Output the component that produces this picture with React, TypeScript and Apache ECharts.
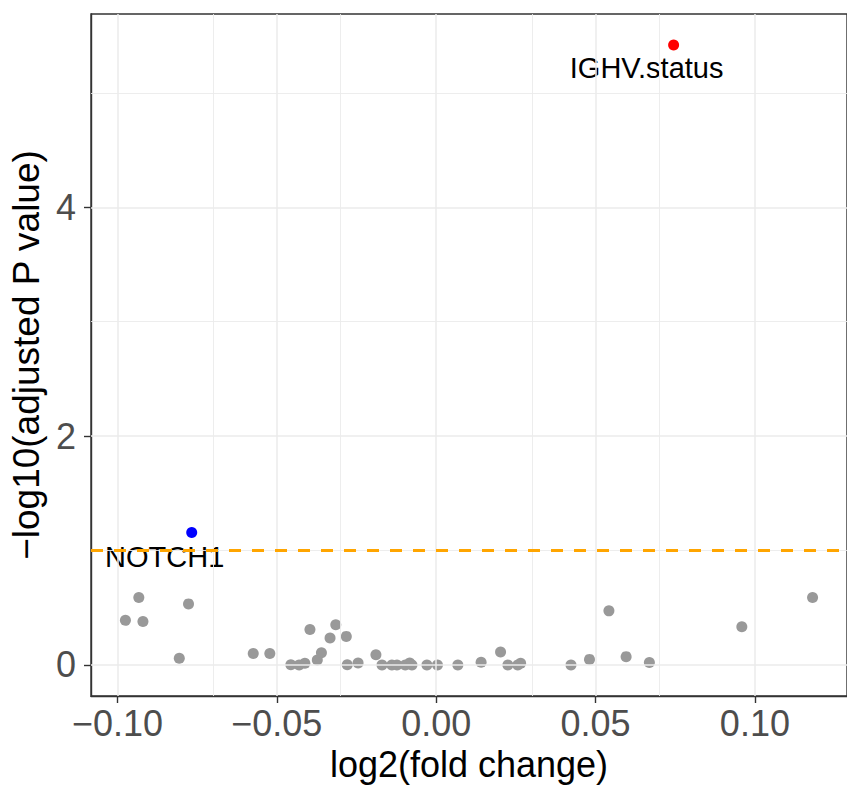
import React, { useEffect, useRef } from "react";
import * as echarts from "echarts";

// Axis ranges and ticks
const xRange = [-0.1083, 0.1289];
const yRange = [-0.271, 5.689];
const xTicks = [-0.1, -0.05, 0, 0.05, 0.1];
const xMinor = [-0.075, -0.025, 0.025, 0.075, 0.125];
const yTicks = [0, 2, 4];
const yMinor = [1, 3, 5];
const threshold = 1;

// Non-significant genes (gray)
const grayX = [
  -0.0933, -0.0975, -0.092, -0.0777, -0.0806, -0.0574, -0.0522, -0.0456, -0.043, -0.0412,
  -0.0396, -0.0373, -0.036, -0.0333, -0.0315, -0.0282, -0.0279, -0.0245, -0.0189, -0.017,
  -0.0139, -0.0123, -0.0097, -0.0083, -0.0076, -0.0029, 0.0004, 0.0068, 0.0141, 0.0202,
  0.0225, 0.0256, 0.0265, 0.0423, 0.0481, 0.0542, 0.0596, 0.0669, 0.0959, 0.1181,
];
const grayY = [
  0.59, 0.39, 0.38, 0.534, 0.058, 0.1, 0.1, 0.003, 0.0, 0.015,
  0.31, 0.044, 0.107, 0.235, 0.351, 0.25, 0.003, 0.017, 0.09, 0.0,
  0.0, 0.0, 0.0, 0.017, 0.0, 0.0, 0.0, 0.0, 0.023, 0.113,
  0.0, 0.0, 0.015, 0.0, 0.049, 0.473, 0.073, 0.021, 0.334, 0.59,
];

// Significant genes
const upNames = ["IGHV.status"];
const upX = [0.0745];
const upY = [5.418];
const downNames = ["NOTCH1"];
const downX = [-0.0767];
const downY = [1.157];

const FONT = "'Liberation Sans', Arial, Helvetica, sans-serif";

const fmtX = (v: number) => (v < 0 ? "\u2212" : "") + Math.abs(v).toFixed(2);

export default function App() {
  const ref = useRef<HTMLDivElement>(null);
  useEffect(() => {
    if (!ref.current) return;
    const chart = echarts.init(ref.current, undefined, { renderer: "svg" });
    const gridLine = (vals: number[], axis: "xAxis" | "yAxis", width: number) => ({
      type: "scatter",
      data: [],
      z: 1,
      silent: true,
      markLine: {
        silent: true,
        symbol: ["none", "none"],
        label: { show: false },
        lineStyle: { color: "#EBEBEB", width, type: "solid", opacity: 1 },
        data: vals.map((v) => ({ [axis]: v })),
      },
    });
    const labelStyle = {
      show: true,
      formatter: "{b}",
      position: "inside",
      fontFamily: FONT,
      fontSize: 29,
      color: "#000000",
      opacity: 1,
    };
    const axisLine = { show: true, onZero: false, lineStyle: { color: "#333333", width: 1.4 } };
    chart.setOption({
      animation: false,
      backgroundColor: "#ffffff",
      grid: {
        left: 91,
        top: 14,
        width: 758,
        height: 682,
        show: true,
        borderColor: "#333333",
        borderWidth: 1.4,
        backgroundColor: "transparent",
        containLabel: false,
      },
      xAxis: {
        type: "value",
        min: xRange[0],
        max: xRange[1],
        name: "log2(fold change)",
        nameLocation: "middle",
        nameGap: 50,
        nameTextStyle: { fontFamily: FONT, fontSize: 36, color: "#000000" },
        axisLine,
        splitLine: { show: false },
        axisTick: {
          show: true,
          customValues: xTicks,
          length: 7,
          lineStyle: { color: "#333333", width: 1.4 },
        },
        axisLabel: {
          customValues: xTicks,
          formatter: fmtX,
          fontFamily: FONT,
          fontSize: 36,
          color: "#4D4D4D",
          margin: 9,
        },
      },
      yAxis: {
        type: "value",
        min: yRange[0],
        max: yRange[1],
        name: "\u2212log10(adjusted P value)",
        nameLocation: "middle",
        nameRotate: 90,
        nameGap: 42,
        nameTextStyle: { fontFamily: FONT, fontSize: 37, color: "#000000" },
        axisLine,
        splitLine: { show: false },
        axisTick: {
          show: true,
          customValues: yTicks,
          length: 7,
          lineStyle: { color: "#333333", width: 1.4 },
        },
        axisLabel: {
          customValues: yTicks,
          formatter: (v: number) => String(Math.round(v)),
          fontFamily: FONT,
          fontSize: 36,
          color: "#4D4D4D",
          margin: 15,
        },
      },
      series: [
        gridLine(xMinor, "xAxis", 0.9),
        gridLine(yMinor, "yAxis", 0.9),
        gridLine(xTicks, "xAxis", 1.5),
        gridLine(yTicks, "yAxis", 1.5),
        {
          type: "scatter",
          data: [],
          z: 2,
          silent: true,
          markLine: {
            silent: true,
            symbol: ["none", "none"],
            label: { show: false },
            lineStyle: { color: "#FFA500", width: 3, type: [12, 11], opacity: 1 },
            data: [{ yAxis: threshold }],
          },
        },
        {
          type: "scatter",
          z: 3,
          symbolSize: 11,
          itemStyle: { color: "#999999", opacity: 1 },
          data: grayX.map((x, i) => [x, grayY[i]]),
        },
        {
          type: "scatter",
          z: 4,
          symbolSize: 11,
          itemStyle: { color: "#FF0000", opacity: 1 },
          data: upX.map((x, i) => ({ name: upNames[i], value: [x, upY[i]] })),
          label: { ...labelStyle, offset: [-27, 23] },
        },
        {
          type: "scatter",
          z: 4,
          symbolSize: 11,
          itemStyle: { color: "#0000FF", opacity: 1 },
          data: downX.map((x, i) => ({ name: downNames[i], value: [x, downY[i]] })),
          label: { ...labelStyle, offset: [-27, 24] },
        },
      ],
    });
    return () => chart.dispose();
  }, []);
  return (
    <div
      ref={ref}
      style={{ position: "fixed", left: 0, top: 0, width: 847, height: 788, background: "#fff" }}
    />
  );
}
